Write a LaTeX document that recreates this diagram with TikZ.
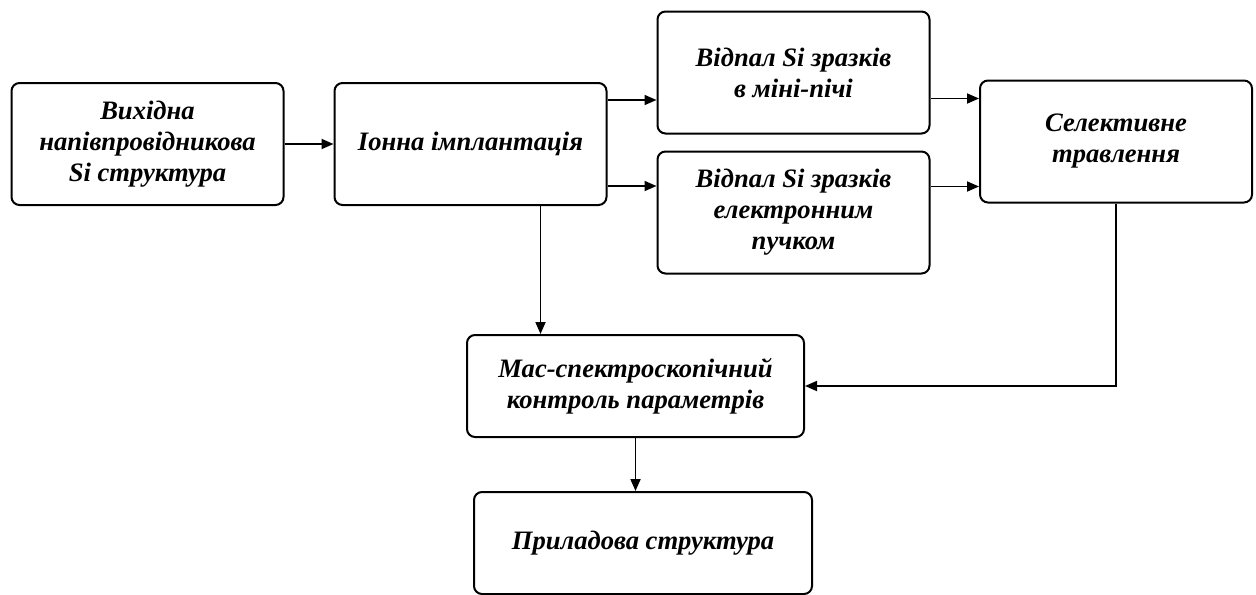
\documentclass[tikz,border=0pt]{standalone}
\usepackage{fontspec}
\setmainfont{Liberation Serif}
\usetikzlibrary{positioning,arrows.meta}

\begin{document}
\begin{tikzpicture}[x=0.5pt,y=-0.5pt, align=center,
  font=\bfseries\itshape\fontsize{13.3}{15.5}\selectfont,
  stage/.style={draw, line width=1pt, rounded corners=4pt, inner sep=0pt,
    minimum width=136pt, minimum height=61pt},
  flow/.style={-{Triangle[length=6pt,width=5pt]}, line width=0.9pt}]
  \useasboundingbox (0,0) rectangle (1256,594);
  \node[stage]  (s_0) at (147.5,144)  {Вихідна\\напівпровідникова\\Si структура};
  \node[stage]  (s_1) at (470.5,144)  {Іонна імплантація};
  \node[stage]  (s_2) at (793.5,72.5) {Відпал Si зразків\\в міні-пічі};
  \node[stage]  (s_3) at (793.5,212.5) {Відпал Si зразків\\електронним\\пучком};
  \node[stage]  (s_4) at (1116,141.5) {Селективне\\травлення};
  \node[stage, minimum width=168.5pt, minimum height=51pt]
                (s_5) at (635.5,386)  {Мас-спектроскопічний\\контроль параметрів};
  \node[stage, minimum width=169pt, minimum height=51pt]
                (s_6) at (643,543)    {Приладова структура};
  \draw[flow] (s_0) -- (s_1);
  \draw[flow] ([yshift=22pt]s_1.east) -- ([yshift=22pt]s_1.east -| s_2.west);
  \draw[flow] ([yshift=-21pt]s_1.east) -- ([yshift=-21pt]s_1.east -| s_3.west);
  \draw[flow] ([yshift=-13pt]s_2.east) -- ([yshift=-13pt]s_2.east -| s_4.west);
  \draw[flow] ([yshift=13pt]s_3.east) -- ([yshift=13pt]s_3.east -| s_4.west);
  \draw[flow] ([xshift=35pt]s_1.south) -- ([xshift=35pt]s_1.south |- s_5.north);
  \draw[flow] (s_4.south) |- (s_5.east);
  \draw[flow] (s_5.south) -- (s_5.south |- s_6.north);
\end{tikzpicture}
\end{document}
